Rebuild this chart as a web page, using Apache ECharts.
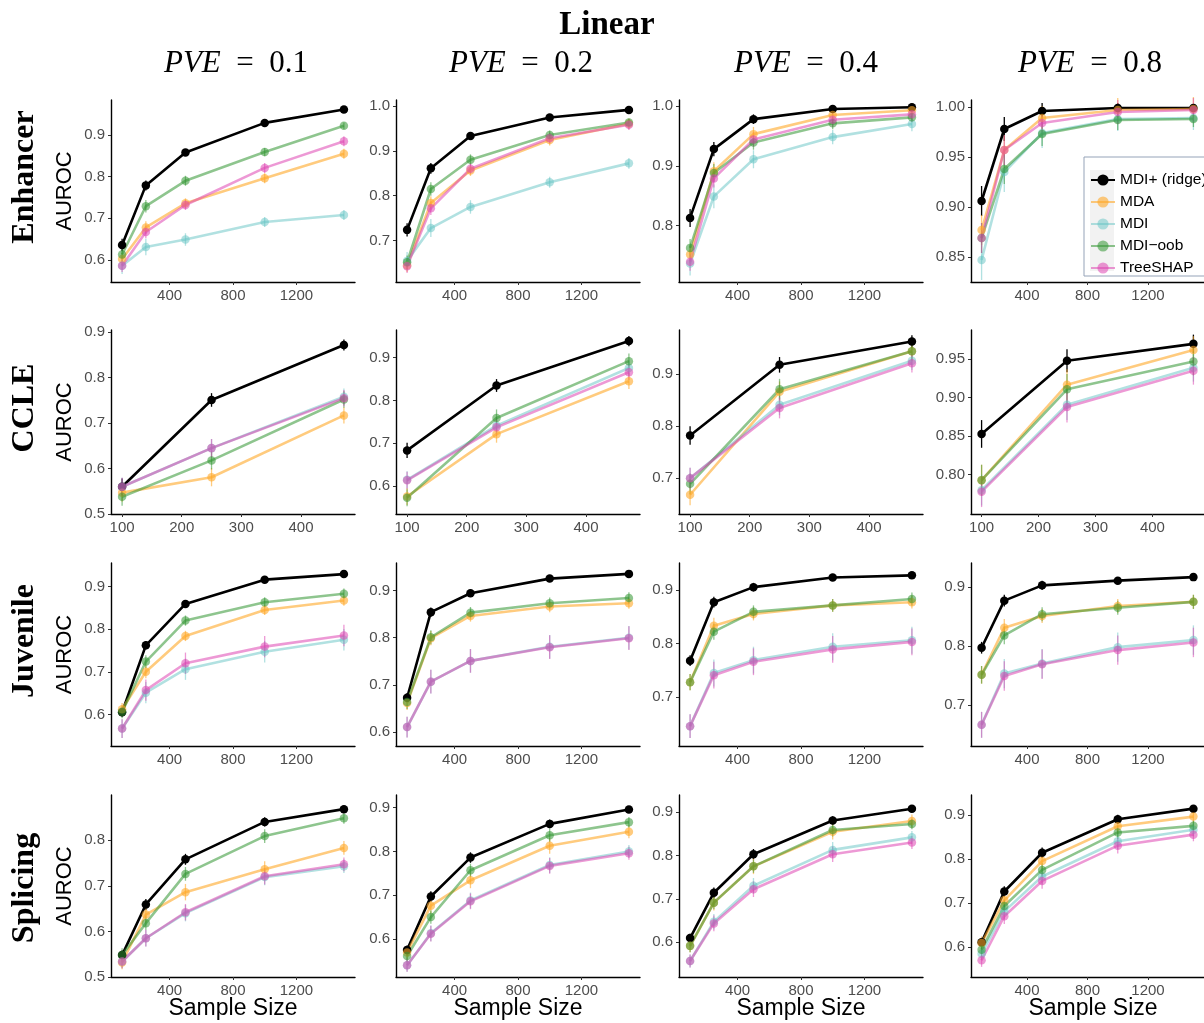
<!DOCTYPE html>
<html><head><meta charset="utf-8">
<script src="https://cdn.jsdelivr.net/npm/echarts@6/dist/echarts.min.js"></script>
<style>html,body{margin:0;padding:0;background:#fff}#chart{width:1204px;height:1023px}</style>
</head><body><div id="chart"></div>
<script>
// ---------- categories ----------
const methods = ['MDI+ (ridge)', 'MDA', 'MDI', 'MDI\u2212oob', 'TreeSHAP'];
const datasets = ['Enhancer', 'CCLE', 'Juvenile', 'Splicing'];
const pveLevels = ['0.1', '0.2', '0.4', '0.8'];
const sampleSizes = [100, 250, 500, 1000, 1500];
const sampleSizesCCLE = [100, 250, 472];

// ---------- tick labels ----------
const xTicksStd = [400, 800, 1200];
const xTicksCCLE = [100, 200, 300, 400];
const yTicks = [
  [[0.6, 0.7, 0.8, 0.9], [0.7, 0.8, 0.9, 1.0], [0.8, 0.9, 1.0], [0.85, 0.90, 0.95, 1.00]],
  [[0.5, 0.6, 0.7, 0.8, 0.9], [0.6, 0.7, 0.8, 0.9], [0.7, 0.8, 0.9], [0.80, 0.85, 0.90, 0.95]],
  [[0.6, 0.7, 0.8, 0.9], [0.6, 0.7, 0.8, 0.9], [0.7, 0.8, 0.9], [0.7, 0.8, 0.9]],
  [[0.5, 0.6, 0.7, 0.8], [0.6, 0.7, 0.8, 0.9], [0.6, 0.7, 0.8, 0.9], [0.6, 0.7, 0.8, 0.9]]
];
const yDecimals = [[1, 1, 1, 2], [1, 1, 1, 2], [1, 1, 1, 1], [1, 1, 1, 1]];

// ---------- values: [PVE 0.1, 0.2, 0.4, 0.8] ----------
const enhancer_ridge = [[0.636,0.779,0.858,0.929,0.961],[0.724,0.861,0.933,0.974,0.991],[0.813,0.928,0.978,0.995,0.998],[0.906,0.978,0.996,0.999,0.999]];
const enhancer_mda   = [[0.602,0.678,0.736,0.796,0.855],[0.645,0.784,0.856,0.924,0.960],[0.752,0.891,0.953,0.985,0.993],[0.877,0.957,0.989,0.997,0.998]];
const enhancer_mdi   = [[0.586,0.631,0.649,0.691,0.708],[0.655,0.728,0.775,0.830,0.872],[0.737,0.849,0.911,0.948,0.970],[0.847,0.935,0.974,0.988,0.989]];
const enhancer_oob   = [[0.613,0.729,0.790,0.859,0.922],[0.652,0.815,0.880,0.935,0.963],[0.763,0.888,0.939,0.971,0.981],[0.869,0.938,0.973,0.987,0.988]];
const enhancer_shap  = [[0.586,0.667,0.732,0.821,0.885],[0.643,0.772,0.860,0.928,0.958],[0.740,0.879,0.944,0.977,0.986],[0.869,0.957,0.984,0.995,0.997]];

const ccle_ridge = [[0.560,0.751,0.872],[0.683,0.835,0.939],[0.782,0.918,0.963],[0.853,0.948,0.970]];
const ccle_mda   = [[0.547,0.581,0.717],[0.575,0.721,0.845],[0.668,0.866,0.944],[0.793,0.917,0.962]];
const ccle_mdi   = [[0.560,0.645,0.758],[0.614,0.741,0.876],[0.700,0.841,0.926],[0.780,0.891,0.939]];
const ccle_oob   = [[0.538,0.618,0.752],[0.572,0.759,0.892],[0.689,0.871,0.944],[0.793,0.911,0.947]];
const ccle_shap  = [[0.560,0.645,0.755],[0.613,0.737,0.866],[0.700,0.835,0.921],[0.778,0.888,0.935]];

const juvenile_ridge = [[0.605,0.762,0.859,0.916,0.929],[0.673,0.854,0.894,0.925,0.935],[0.768,0.877,0.905,0.923,0.927],[0.797,0.877,0.903,0.911,0.917]];
const juvenile_mda   = [[0.612,0.700,0.784,0.845,0.867],[0.662,0.799,0.846,0.866,0.873],[0.728,0.833,0.855,0.871,0.877],[0.751,0.831,0.851,0.868,0.875]];
const juvenile_mdi   = [[0.567,0.651,0.706,0.747,0.775],[0.611,0.707,0.751,0.781,0.800],[0.646,0.745,0.769,0.794,0.806],[0.666,0.753,0.770,0.798,0.810]];
const juvenile_oob   = [[0.606,0.724,0.820,0.863,0.883],[0.664,0.801,0.853,0.873,0.884],[0.728,0.822,0.859,0.871,0.883],[0.751,0.818,0.854,0.865,0.875]];
const juvenile_shap  = [[0.567,0.657,0.720,0.759,0.785],[0.611,0.707,0.751,0.780,0.799],[0.646,0.741,0.766,0.789,0.803],[0.666,0.749,0.769,0.793,0.806]];

const splicing_ridge = [[0.548,0.659,0.758,0.840,0.868],[0.575,0.697,0.786,0.863,0.896],[0.609,0.714,0.803,0.881,0.908],[0.611,0.726,0.814,0.890,0.914]];
const splicing_mda   = [[0.532,0.637,0.686,0.736,0.783],[0.569,0.676,0.734,0.813,0.845],[0.591,0.691,0.775,0.855,0.880],[0.609,0.706,0.795,0.874,0.896]];
const splicing_mdi   = [[0.534,0.585,0.640,0.719,0.743],[0.540,0.613,0.688,0.769,0.800],[0.556,0.647,0.730,0.813,0.842],[0.585,0.681,0.760,0.840,0.866]];
const splicing_oob   = [[0.548,0.618,0.726,0.809,0.848],[0.561,0.650,0.757,0.837,0.867],[0.591,0.691,0.775,0.859,0.873],[0.594,0.693,0.775,0.860,0.875]];
const splicing_shap  = [[0.534,0.585,0.642,0.721,0.747],[0.540,0.612,0.686,0.767,0.796],[0.556,0.643,0.722,0.803,0.830],[0.570,0.670,0.750,0.830,0.855]];

// ---------- error bar half-widths (per dataset, per method, per sample size) ----------
const enhancer_err = [[0.015,0.012,0.008,0.005,0.004],[0.015,0.015,0.012,0.012,0.012],[0.02,0.02,0.015,0.012,0.012],[0.015,0.015,0.012,0.01,0.008],[0.015,0.015,0.012,0.012,0.012]];
const ccle_err     = [[0.018,0.015,0.012],[0.02,0.02,0.018],[0.02,0.02,0.018],[0.02,0.02,0.018],[0.02,0.02,0.018]];
const juvenile_err = [[0.01,0.01,0.008,0.006,0.005],[0.015,0.015,0.012,0.012,0.012],[0.022,0.025,0.025,0.025,0.025],[0.015,0.015,0.012,0.012,0.012],[0.022,0.025,0.025,0.025,0.025]];
const splicing_err = [[0.01,0.012,0.012,0.01,0.008],[0.015,0.018,0.018,0.018,0.015],[0.015,0.018,0.018,0.018,0.015],[0.015,0.015,0.015,0.015,0.012],[0.015,0.018,0.018,0.018,0.015]];

// ---------- assembly ----------
const valueTable = [
  [enhancer_ridge, enhancer_mda, enhancer_mdi, enhancer_oob, enhancer_shap],
  [ccle_ridge, ccle_mda, ccle_mdi, ccle_oob, ccle_shap],
  [juvenile_ridge, juvenile_mda, juvenile_mdi, juvenile_oob, juvenile_shap],
  [splicing_ridge, splicing_mda, splicing_mdi, splicing_oob, splicing_shap]
];
const errTable = [enhancer_err, ccle_err, juvenile_err, splicing_err];

// axis ranges (scale settings)
const yRanges = [
  [[0.547,0.984],[0.608,1.013],[0.706,1.010],[0.825,1.007]],
  [[0.500,0.905],[0.534,0.965],[0.631,0.985],[0.749,0.988]],
  [[0.526,0.955],[0.571,0.958],[0.609,0.950],[0.630,0.941]],
  [[0.500,0.899],[0.513,0.929],[0.519,0.940],[0.532,0.945]]
];
const xRangeStd = [30, 1570];
const xRangeCCLE = [81.4, 490.6];

const methodColors = ['#000000', 'rgba(255,168,40,0.6)', 'rgba(100,195,195,0.5)', 'rgba(50,150,50,0.55)', 'rgba(222,70,178,0.55)'];
const colLefts = [111, 396, 679, 971];
const rowTops = [100, 330, 563, 795];
const rowHeights = [182, 184, 183, 182];
const gridW = 244;
const SANS = 'Liberation Sans, Arial, sans-serif';
const SERIF = 'Liberation Serif, Times New Roman, serif';

const grids = [], xAxes = [], yAxes = [], series = [];
for (let r = 0; r < 4; r++) {
  for (let c = 0; c < 4; c++) {
    const idx = r * 4 + c;
    const isCCLE = datasets[r] === 'CCLE';
    const xs = isCCLE ? sampleSizesCCLE : sampleSizes;
    const xr = isCCLE ? xRangeCCLE : xRangeStd;
    grids.push({ left: colLefts[c], top: rowTops[r], width: gridW, height: rowHeights[r], containLabel: false });
    xAxes.push({
      gridIndex: idx, type: 'value', min: xr[0], max: xr[1],
      axisLine: { show: true, onZero: false, lineStyle: { color: '#000', width: 1.4 } },
      axisTick: { show: true, length: 3, customValues: isCCLE ? xTicksCCLE : xTicksStd, lineStyle: { color: '#333' } },
      axisLabel: { customValues: isCCLE ? xTicksCCLE : xTicksStd, color: '#4d4d4d', fontSize: 15, fontFamily: SANS, margin: 6,
        formatter: v => String(Math.round(v)) },
      splitLine: { show: false }
    });
    const dec = yDecimals[r][c];
    yAxes.push({
      gridIndex: idx, type: 'value', min: yRanges[r][c][0], max: yRanges[r][c][1],
      axisLine: { show: true, onZero: false, lineStyle: { color: '#000', width: 1.4 } },
      axisTick: { show: true, length: 3, customValues: yTicks[r][c], lineStyle: { color: '#333' } },
      axisLabel: { customValues: yTicks[r][c], color: '#4d4d4d', fontSize: 15, fontFamily: SANS, margin: 6,
        formatter: v => Number(v).toFixed(dec) },
      splitLine: { show: false }
    });
    for (let m = 0; m < methods.length; m++) {
      const vals = valueTable[r][m][c];
      const errs = errTable[r][m];
      const col = methodColors[m];
      series.push({
        type: 'line', name: methods[m], xAxisIndex: idx, yAxisIndex: idx,
        data: xs.map((x, i) => [x, vals[i]]),
        symbol: 'circle', symbolSize: 8.5, showSymbol: true,
        lineStyle: { color: col, width: 2.6 }, itemStyle: { color: col },
        emphasis: { disabled: true }, animation: false, clip: false
      });
      series.push({
        type: 'custom', name: 'err', xAxisIndex: idx, yAxisIndex: idx,
        data: xs.map((x, i) => [x, vals[i], errs[i]]),
        encode: { x: 0, y: 1 }, silent: true, animation: false,
        renderItem: (params, api) => {
          const x = api.value(0), y = api.value(1), e = api.value(2);
          const p1 = api.coord([x, y - e]), p2 = api.coord([x, y + e]);
          return { type: 'line', shape: { x1: p1[0], y1: p1[1], x2: p2[0], y2: p2[1] },
                   style: { stroke: col, lineWidth: 1.3 } };
        }
      });
    }
  }
}

const graphics = [];
graphics.push({ type: 'text', x: 607, y: 25, style: { text: 'Linear', font: 'bold 33px ' + SERIF, fill: '#000', align: 'center', verticalAlign: 'middle' } });
const pveCenters = [236, 521, 806, 1090];
pveLevels.forEach((p, c) => {
  graphics.push({ type: 'text', x: pveCenters[c], y: 64, style: {
    text: '{i|PVE}{n|\u2002=\u2002' + p + '}', align: 'center', verticalAlign: 'middle', fill: '#000',
    rich: { i: { fontStyle: 'italic', fontFamily: SERIF, fontSize: 31, fill: '#000' },
            n: { fontFamily: SERIF, fontSize: 31, fill: '#000' } } } });
});
const rowLabelY = [177, 408, 641, 888];
datasets.forEach((d, r) => {
  graphics.push({ type: 'text', x: 25, y: rowLabelY[r], rotation: Math.PI / 2,
    style: { text: d, font: 'bold 32px ' + SERIF, fill: '#000', align: 'center', verticalAlign: 'middle' } });
  graphics.push({ type: 'text', x: 65, y: rowTops[r] + rowHeights[r] / 2, rotation: Math.PI / 2,
    style: { text: 'AUROC', font: '22px ' + SANS, fill: '#000', align: 'center', verticalAlign: 'middle' } });
});
for (let c = 0; c < 4; c++) {
  graphics.push({ type: 'text', x: colLefts[c] + gridW / 2, y: 1009,
    style: { text: 'Sample Size', font: '23px ' + SANS, fill: '#000', align: 'center', verticalAlign: 'middle' } });
}
// legend frame and key background
graphics.push({ type: 'rect', z: -1, shape: { x: 1084, y: 157, width: 200, height: 119 }, style: { fill: '#fff', stroke: '#95a3b8', lineWidth: 1 } });
graphics.push({ type: 'rect', z: -1, shape: { x: 1090, y: 170, width: 24, height: 101 }, style: { fill: '#f2f2f2' } });

const option = {
  backgroundColor: '#fff',
  animation: false,
  grid: grids, xAxis: xAxes, yAxis: yAxes, series: series,
  legend: {
    data: methods, orient: 'vertical', left: 1089, top: 162,
    itemWidth: 24, itemHeight: 14, itemGap: 6, padding: [10, 4, 6, 1],
    textStyle: { fontSize: 15.5, fontFamily: SANS, color: '#000' },
    selectedMode: false
  },
  graphic: graphics
};
const chart = echarts.init(document.getElementById('chart'), null, { renderer: 'canvas' });
chart.setOption(option);
</script></body></html>
